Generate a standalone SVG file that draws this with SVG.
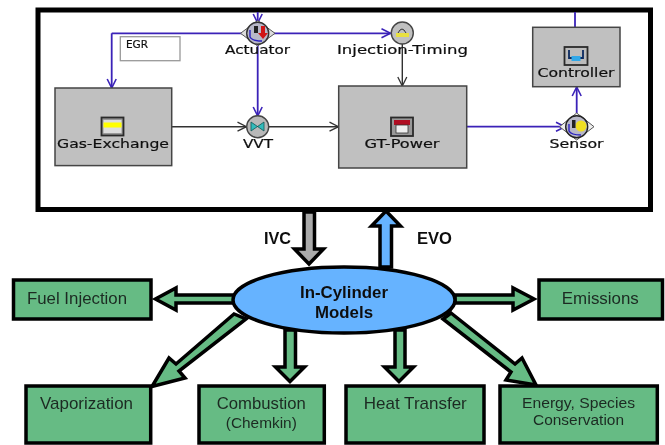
<svg xmlns="http://www.w3.org/2000/svg" width="665" height="445" viewBox="0 0 665 445">
<style>
.blk{fill:#c0c0c0;stroke:#444;stroke-width:1.5}
.t{font-family:"DejaVu Sans",sans-serif;font-size:11.5px;fill:#111;stroke:#111;stroke-width:.2;text-anchor:middle}
.box{fill:#66bb84;stroke:#000;stroke-width:3.5}
.l{font-family:"Liberation Sans",Arial,sans-serif;font-size:17px;fill:#1c2a22;text-anchor:middle}
.b{font-family:"Liberation Sans",Arial,sans-serif;font-size:16px;font-weight:bold;fill:#111;text-anchor:middle}
.bl{stroke:#3a22b8;stroke-width:1.8;fill:none}
.kl{stroke:#333;stroke-width:1.4;fill:none}
.ar{stroke:#000;stroke-width:3.5;fill:#66bb84;stroke-linejoin:miter}
.ic{fill:#999;stroke:#2a2a2a;stroke-width:1.8}
</style>
<defs>
<filter id="soft" x="-2%" y="-2%" width="104%" height="104%"><feGaussianBlur stdDeviation="0.45"/></filter>
<marker id="ob" markerUnits="userSpaceOnUse" markerWidth="12" markerHeight="12" refX="10" refY="5.5" orient="auto"><path d="M1 1L10 5.5L1 10" fill="none" stroke="#3a22b8" stroke-width="1.6"/></marker>
<marker id="ok" markerUnits="userSpaceOnUse" markerWidth="12" markerHeight="12" refX="10" refY="5.5" orient="auto"><path d="M1 1L10 5.5L1 10" fill="none" stroke="#333" stroke-width="1.3"/></marker>
</defs>
<rect width="665" height="445" fill="#fff"/>
<g filter="url(#soft)">
<rect id="frame" x="38" y="10" width="612.5" height="199.5" fill="#fff" stroke="#000" stroke-width="5"/>
<g id="connectors">
<path class="bl" d="M111.7 33.3H246"/>
<path class="bl" d="M111.7 33.3V88" marker-end="url(#ob)"/>
<path class="bl" d="M270 33.3H390.500" marker-end="url(#ob)"/>
<path class="bl" d="M257.700 44V116" marker-end="url(#ob)"/>
<path class="bl" d="M257.700 12V23" marker-end="url(#ob)"/>
<path class="kl" d="M171.700 126.700H246.500" marker-end="url(#ok)"/>
<path class="kl" d="M269 126.700H338.500" marker-end="url(#ok)"/>
<path class="kl" d="M402.300 44V86" marker-end="url(#ok)"/>
<path class="bl" d="M466.700 126.700H565" marker-end="url(#ob)"/>
<path class="bl" d="M576.700 113V87" marker-end="url(#ob)"/>
<path class="bl" d="M575 12V27"/>
<path class="ar" style="fill:#aaa" d="M304 212V249H294.500L309 264L323.500 249H314.500V212Z"/>
<path class="ar" style="fill:#66b3ff" d="M380 267V226H371.500L386 211L400.500 226H391.500V267Z"/>
<path class="ar" d="M235 295H176V288L155.500 299L176 310V303H235Z"/>
<path class="ar" d="M455 295H513V288L534 299L513 310V303H455Z"/>
<path class="ar" d="M285 330V367H275.500L290 381.500L304.500 367H295.500V330Z"/>
<path class="ar" d="M395 330V367H384.500L399 381.500L413.500 367H405V330Z"/>
<path class="ar" d="M234 314L176 364L169 358L152 386.500L185 378L179 371L246 319Z"/>
<path class="ar" d="M451 313L515 364L522 358L536 385L506 380L511 372L443 319Z"/>
</g>
<g id="egr"><rect x="120.300" y="36.700" width="59.700" height="24" fill="#fff" stroke="#999" stroke-width="1.3"/><text class="t" x="137" y="48" style="font-size:10.500px">EGR</text></g>
<g id="gas-exchange"><rect class="blk" x="55" y="88" width="116.700" height="77.600"/><rect class="ic" x="101.500" y="117.500" width="22" height="18"/><rect x="103.500" y="120" width="18" height="13" fill="#ddd"/><rect x="103.500" y="122.500" width="18" height="5" fill="#ff0"/><text class="t" x="113" y="147.700" textLength="112" lengthAdjust="spacingAndGlyphs">Gas-Exchange</text></g>
<g id="gt-power"><rect class="blk" x="338.700" y="86" width="128" height="82"/><rect class="ic" x="391" y="117.500" width="22" height="18.500"/><rect x="394" y="120" width="16" height="5" fill="#b01020"/><rect x="396" y="125" width="12" height="8" fill="#eee" stroke="#333" stroke-width=".8"/><text class="t" x="402" y="147.500" textLength="75" lengthAdjust="spacingAndGlyphs">GT-Power</text></g>
<g id="controller"><rect class="blk" x="532.700" y="27.300" width="87.300" height="59.400"/><rect x="564.500" y="47" width="23" height="18" fill="#bbb" stroke="#2a2a2a" stroke-width="1.800"/><path d="M569 50V58H583V50" fill="none" stroke="#0a2a60" stroke-width="1.800"/><rect x="571.500" y="56" width="9" height="5" fill="#30a8e8"/><text class="t" x="576" y="77" textLength="77" lengthAdjust="spacingAndGlyphs">Controller</text></g>
<g id="actuator"><path d="M240.500 33.300L257.700 20.500L275 33.300L257.700 46Z" fill="#ddd" stroke="#555" stroke-width="1"/><circle cx="257.700" cy="33.300" r="11" fill="#b8b8c8" stroke="#333" stroke-width="1.400"/><path d="M254 26h4v7h-4z" fill="#222"/><path d="M261 26h4v7h3l-5 6-5-6h3z" fill="#d01818"/><path d="M250 30v7q2 4 12 4" fill="none" stroke="#2a20c0" stroke-width="1.400"/><text class="t" x="257.500" y="54" textLength="65" lengthAdjust="spacingAndGlyphs">Actuator</text></g>
<g id="injection-timing"><circle cx="402.300" cy="33" r="11" fill="#c0c0c0" stroke="#444" stroke-width="1.400"/><rect x="396" y="33" width="13" height="4" fill="#e8e040"/><path d="M398 33q4-8 8 0" fill="none" stroke="#333"/><text class="t" x="402.500" y="54" textLength="131" lengthAdjust="spacingAndGlyphs">Injection-Timing</text></g>
<g id="vvt"><circle cx="257.700" cy="126.700" r="11" fill="#b8b8b8" stroke="#444" stroke-width="1.400"/><path d="M251 122L264 131V122L251 131Z" fill="#3bb" stroke="#155" stroke-width=".8"/><text class="t" x="258" y="147.500" textLength="30" lengthAdjust="spacingAndGlyphs">VVT</text></g>
<g id="sensor"><path d="M559.500 126.700L576.700 113L594 126.700L576.700 140Z" fill="#eee" stroke="#555" stroke-width="1"/><circle cx="576.700" cy="126.700" r="11" fill="#b8b8c8" stroke="#222" stroke-width="1.400"/><circle cx="581" cy="126" r="5.500" fill="#f0e020"/><rect x="572" y="120" width="3.500" height="8" fill="#222"/><path d="M569 124v7q2 4 12 4" fill="none" stroke="#2a20c0" stroke-width="1.400"/><text class="t" x="576.500" y="147.500" textLength="54" lengthAdjust="spacingAndGlyphs">Sensor</text></g>
<g id="in-cylinder"><ellipse cx="344" cy="300" rx="111" ry="33" fill="#66b3ff" stroke="#000" stroke-width="3.500"/><text class="b" x="344" y="297.500" textLength="88" lengthAdjust="spacingAndGlyphs">In-Cylinder</text><text class="b" x="344" y="317.500" textLength="58" lengthAdjust="spacingAndGlyphs">Models</text></g>
<g id="fuel-injection"><rect class="box" x="13.500" y="280" width="137.500" height="39"/><text class="l" x="77" y="304" textLength="100" lengthAdjust="spacingAndGlyphs">Fuel Injection</text></g>
<g id="emissions"><rect class="box" x="539" y="280" width="123.500" height="39"/><text class="l" x="600.300" y="304" textLength="77" lengthAdjust="spacingAndGlyphs">Emissions</text></g>
<g id="vaporization"><rect class="box" x="26" y="386" width="124.700" height="57"/><text class="l" x="86.500" y="409" textLength="93" lengthAdjust="spacingAndGlyphs">Vaporization</text></g>
<g id="combustion"><rect class="box" x="199" y="386" width="125.300" height="57"/><text class="l" x="261.300" y="409" textLength="89" lengthAdjust="spacingAndGlyphs">Combustion</text><text class="l" x="261.300" y="427.500" style="font-size:15px" textLength="71" lengthAdjust="spacingAndGlyphs">(Chemkin)</text></g>
<g id="heat-transfer"><rect class="box" x="346" y="386" width="138" height="57"/><text class="l" x="415.300" y="409" textLength="103" lengthAdjust="spacingAndGlyphs">Heat Transfer</text></g>
<g id="energy"><rect class="box" x="500" y="386" width="157.300" height="57"/><text class="l" x="578.500" y="407.500" style="font-size:15.500px" textLength="113" lengthAdjust="spacingAndGlyphs">Energy, Species</text><text class="l" x="578.500" y="425" style="font-size:15.500px" textLength="91" lengthAdjust="spacingAndGlyphs">Conservation</text></g>
<text class="b" x="277.500" y="244" textLength="27" lengthAdjust="spacingAndGlyphs">IVC</text>
<text class="b" x="434.500" y="244" textLength="35" lengthAdjust="spacingAndGlyphs">EVO</text>
</g>
</svg>
